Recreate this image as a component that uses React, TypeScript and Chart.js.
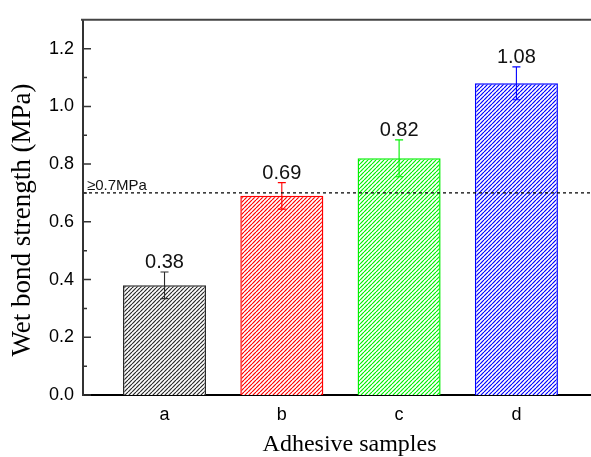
import React, { useEffect, useRef } from 'react';
import { Chart, registerables } from 'chart.js';

Chart.register(...registerables);

// ---- data ----
const categories = ['a', 'b', 'c', 'd'];
const strengths = [0.38, 0.69, 0.82, 1.08];
const errors = [0.046, 0.046, 0.064, 0.057];
const valueLabels = ['0.38', '0.69', '0.82', '1.08'];
const barColors = ['#2b2b2b', '#ff0000', '#00f000', '#0000ff'];
const yMajorTicks = [0, 0.2, 0.4, 0.6, 0.8, 1.0, 1.2];
const yMinorTicks = [0.1, 0.3, 0.5, 0.7, 0.9, 1.1];
const thresholdValue = 0.7;
const thresholdLabel = '≥0.7MPa';
const xTitle = 'Adhesive samples';
const yTitle = 'Wet bond strength (MPa)';

const SANS = '"Liberation Sans", Arial, sans-serif';
const SERIF = '"Liberation Serif", "Times New Roman", serif';

function hatch(color: string): CanvasPattern | string {
  const c = document.createElement('canvas');
  c.width = 4;
  c.height = 4;
  const g = c.getContext('2d');
  if (!g) return color;
  g.fillStyle = '#ffffff';
  g.fillRect(0, 0, 4, 4);
  g.strokeStyle = color;
  g.lineWidth = 1.2;
  for (const off of [-4, 0, 4]) {
    g.beginPath();
    g.moveTo(off, 4);
    g.lineTo(off + 4, 0);
    g.stroke();
  }
  return g.createPattern(c, 'repeat') || color;
}

const overlayPlugin = {
  id: 'overlay',
  afterDatasetsDraw(chart: any) {
    const { ctx, chartArea: a, scales } = chart;
    const x = scales.x;
    const y = scales.y;
    ctx.save();

    // error bars and value labels
    strengths.forEach((v, i) => {
      const px = x.getPixelForValue(i + 1);
      const top = y.getPixelForValue(v + errors[i]);
      const bot = y.getPixelForValue(v - errors[i]);
      ctx.strokeStyle = barColors[i];
      ctx.lineWidth = 1.1;
      ctx.beginPath();
      ctx.moveTo(px, top);
      ctx.lineTo(px, bot);
      ctx.moveTo(px - 4, top);
      ctx.lineTo(px + 4, top);
      ctx.moveTo(px - 4, bot);
      ctx.lineTo(px + 4, bot);
      ctx.stroke();

      ctx.fillStyle = '#111';
      ctx.font = `20px ${SANS}`;
      ctx.textAlign = 'center';
      ctx.textBaseline = 'alphabetic';
      ctx.fillText(valueLabels[i], px, top - 4);
    });

    // threshold dashed line
    const ty = y.getPixelForValue(thresholdValue);
    ctx.strokeStyle = '#000';
    ctx.lineWidth = 1.3;
    ctx.setLineDash([3, 3]);
    ctx.beginPath();
    ctx.moveTo(a.left, ty);
    ctx.lineTo(a.right, ty);
    ctx.stroke();
    ctx.setLineDash([]);
    ctx.fillStyle = '#111';
    ctx.font = `15px ${SANS}`;
    ctx.textAlign = 'left';
    ctx.textBaseline = 'alphabetic';
    ctx.fillText(thresholdLabel, a.left + 4, ty - 3);

    // top frame line
    ctx.strokeStyle = '#444';
    ctx.lineWidth = 2;
    ctx.beginPath();
    ctx.moveTo(a.left - 2, a.top);
    ctx.lineTo(a.right, a.top);
    ctx.stroke();

    // inward y ticks
    ctx.strokeStyle = '#333';
    ctx.lineWidth = 1.5;
    ctx.beginPath();
    yMajorTicks.forEach((v) => {
      const py = y.getPixelForValue(v);
      ctx.moveTo(a.left, py);
      ctx.lineTo(a.left + 8, py);
    });
    yMinorTicks.forEach((v) => {
      const py = y.getPixelForValue(v);
      ctx.moveTo(a.left, py);
      ctx.lineTo(a.left + 4, py);
    });
    ctx.stroke();

    // axis titles (full frame extends beyond the visible right edge)
    ctx.fillStyle = '#000';
    ctx.textAlign = 'center';
    ctx.textBaseline = 'middle';
    ctx.font = `24px ${SERIF}`;
    const frameRight = x.getPixelForValue(4.85);
    ctx.fillText(xTitle, (a.left + frameRight) / 2, 445);

    ctx.save();
    ctx.translate(23, 220);
    ctx.rotate(-Math.PI / 2);
    ctx.font = `27px ${SERIF}`;
    ctx.fillText(yTitle, 0, 0);
    ctx.restore();

    ctx.restore();
  },
};

export default function App() {
  const ref = useRef<HTMLCanvasElement | null>(null);

  useEffect(() => {
    document.body.style.margin = '0';
    const canvas = ref.current;
    if (!canvas) return;

    const chart = new Chart(canvas, {
      type: 'bar',
      data: {
        datasets: [
          {
            data: strengths.map((v, i) => ({ x: i + 1, y: v })),
            backgroundColor: barColors.map((c) => hatch(c)) as any,
            borderColor: barColors,
            borderWidth: 1.5,
            barPercentage: 0.708,
            categoryPercentage: 1,
          },
        ],
      },
      options: {
        animation: false,
        responsive: false,
        devicePixelRatio: 1,
        layout: { padding: { top: 15, left: 0, right: 0, bottom: 0 } },
        plugins: {
          legend: { display: false },
          tooltip: { enabled: false },
        },
        scales: {
          x: {
            type: 'linear',
            offset: false,
            min: 0.305,
            max: 4.636,
            grid: { display: false, drawTicks: false, offset: false },
            border: { display: true, color: '#000', width: 2 },
            afterBuildTicks: (s: any) => {
              s.ticks = categories.map((_, i) => ({ value: i + 1 }));
            },
            afterFit: (s: any) => {
              s.height = 62;
            },
            ticks: {
              padding: 9,
              color: '#000',
              font: { family: SANS, size: 18 },
              callback: (v: any) => categories[Number(v) - 1] ?? '',
            },
            title: { display: false },
          },
          y: {
            min: 0,
            max: 1.3,
            grid: { display: false, drawTicks: false },
            border: { display: true, color: '#333', width: 2 },
            afterBuildTicks: (s: any) => {
              s.ticks = yMajorTicks.map((v) => ({ value: v }));
            },
            afterFit: (s: any) => {
              s.width = 83;
            },
            ticks: {
              padding: 9,
              color: '#000',
              font: { family: SANS, size: 18 },
              callback: (v: any) => Number(v).toFixed(1),
            },
            title: { display: false },
          },
        },
      },
      plugins: [overlayPlugin],
    });

    return () => chart.destroy();
  }, []);

  return (
    <div style={{ width: 591, height: 457, background: '#fff' }}>
      <canvas ref={ref} width={591} height={457} style={{ display: 'block' }} />
    </div>
  );
}
